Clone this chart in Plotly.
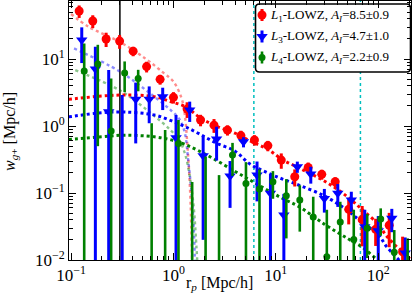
import plotly.graph_objects as go

# ---------------- data ----------------
rp = [0.120, 0.163, 0.220, 0.298, 0.404, 0.547, 0.741, 1.00, 1.36, 1.84, 2.49, 3.37,
      4.56, 6.18, 8.36, 11.3, 15.3, 20.7, 28.1, 38.0, 51.5, 69.7, 94.4, 128, 173]

w_L1 = [52, 37, 19.9, 18.5, 13.1, 7.7, 4.97, 2.68, 1.79, 1.23, 1.03, 0.87,
        0.72, 0.62, 0.51, 0.31, 0.175, 0.24, 0.19, 0.147, 0.057, 0.040, 0.0287, 0.033, 0.0133]
e_L1 = [11, 8, 4.8, 4.3, 2.1, 1.4, 0.83, 0.52, 0.47, 0.24, 0.24, 0.15,
        0.13, 0.11, 0.09, 0.08, 0.05, 0.045, 0.032, 0.025, 0.023, 0.024, 0.0125, 0.0175, 0.009]

w_L3 = [19.2, 7.1, 1.63, -0.8, 2.5, 2.5, 2.73, 0.67, 1.73, 0.36, 0.64, 0.18,
        0.58, 0.185, 0.099, 0.047, 0.247, 0.192, 0.083, 0.099, 0.0785, 0.0313, 0.0273, 0.042, 0.0127]
e_L3 = [10.5, 8.1, 5.2, 3.7, 1.95, 1.4, 1.0, 0.79, 0.58, 0.34, 0.335, 0.12,
        0.1, 0.11, 0.09, 0.05, 0.047, 0.054, 0.032, 0.037, 0.026, 0.025, 0.018, 0.016, 0.009]

w_L4 = [6.6, 8.4, 0.84, 6.2, 5.1, -0.5, -0.3, 0.55, -0.1, -0.2, -0.1, 0.37,
        0.139, 0.115, 0.147, 0.091, 0.0785, 0.044, 0.0112, 0.037, 0.0203, 0.0297, 0.041, 0.013, -0.005]
e_L4 = [10.5, 7.9, 4.3, 3.0, 1.8, 1.6, 1.17, 0.68, 0.246, 0.55, 0.285, 0.19,
        0.15, 0.11, 0.065, 0.07, 0.052, 0.044, 0.045, 0.037, 0.036, 0.019, 0.018, 0.015, 0.026]

# large-scale (thick dotted) model curves
rp_model = [0.095, 0.2, 0.33, 0.65, 0.95, 1.3, 1.8, 2.6, 4.0, 5.6, 8.3, 11.8, 17, 30, 50, 70, 100, 120, 150, 177, 215]
m_L1 = [2.5, 2.8, 2.9, 2.74, 2.3, 1.95, 1.35, 1.0, 0.78, 0.6, 0.45, 0.31, 0.235, 0.15, 0.088, 0.056, 0.034, 0.023, 0.016, 0.013, 0.0095]
m_L3 = [1.37, 1.58, 1.62, 1.46, 1.2, 0.98, 0.76, 0.56, 0.42, 0.27, 0.2, 0.16, 0.13, 0.09, 0.055, 0.036, 0.024, 0.016, 0.011, 0.0085, 0.006]
m_L4 = [0.63, 0.69, 0.73, 0.69, 0.62, 0.53, 0.42, 0.31, 0.21, 0.156, 0.11, 0.082, 0.062, 0.034, 0.021, 0.0155, 0.0098, 0.008, 0.006, 0.005, 0.004]

# small-scale (thin) model curves
rp_t1 = [0.1, 0.15, 0.3, 0.54, 0.8, 1.0, 1.2, 1.29, 1.36, 1.42, 1.47, 1.52]
t_L1 = [47, 30, 18, 10, 6.2, 4.6, 2.6, 1.5, 0.6, 0.22, 0.07, 0.01]
rp_t3 = [0.107, 0.3, 0.62, 0.95, 1.15, 1.29, 1.39, 1.5, 1.58, 1.62]
t_L3 = [14.4, 6.5, 2.9, 1.7, 1.25, 0.8, 0.32, 0.104, 0.03, 0.009]
rp_t4 = [0.11, 0.3, 0.62, 0.95, 1.15, 1.3, 1.45, 1.58, 1.68, 1.72]
t_L4 = [6.8, 3.4, 1.5, 0.85, 0.6, 0.38, 0.17, 0.06, 0.015, 0.008]

vline_black = 0.3
vlines_cyan = [6.1, 67]

labels = ["<i>L</i><sub>1</sub>-LOWZ, <i>A<sub>I</sub></i>=8.5\u00b10.9",
          "<i>L</i><sub>3</sub>-LOWZ, <i>A<sub>I</sub></i>=4.7\u00b11.0",
          "<i>L</i><sub>4</sub>-LOWZ, <i>A<sub>I</sub></i>=2.2\u00b10.9"]

xtick_vals = [0.1, 1, 10, 100]
xtick_text = ["10<sup>\u22121</sup>", "10<sup>0</sup>", "10<sup>1</sup>", "10<sup>2</sup>"]
ytick_vals = [0.01, 0.1, 1, 10]
ytick_text = ["10<sup>\u22122</sup>", "10<sup>\u22121</sup>", "10<sup>0</sup>", "10<sup>1</sup>"]

# ---------------- style ----------------
RED, BLUE, GREEN, CYAN = "#ff0000", "#0000ff", "#008000", "#00bfbf"
FONT = "Liberation Serif"
W, H = 415, 297
ML, MR, MT, MB = 69, 4, 1, 37
PW, PH = W - ML - MR, H - MT - MB
XR = [-1.02, 2.32]
YR = [-2.0, 1.866]

fig = go.Figure()

def bars(x, w, e, floor=1e-4):
    xs, ys = [], []
    for xi, wi, ei in zip(x, w, e):
        hi = wi + ei
        if hi <= 0:
            continue
        xs += [xi, xi, None]
        ys += [max(wi - ei, floor), hi, None]
    return xs, ys

# thin model curves
for xx, yy, c in [(rp_t1, t_L1, RED), (rp_t3, t_L3, BLUE), (rp_t4, t_L4, GREEN)]:
    fig.add_trace(go.Scatter(x=xx, y=yy, mode="lines", line=dict(color=c, width=2.4, dash="dot", shape="spline"),
                             opacity=0.45, showlegend=False, hoverinfo="skip"))

# thick dotted model curves
for yy, c in [(m_L1, RED), (m_L3, BLUE), (m_L4, GREEN)]:
    fig.add_trace(go.Scatter(x=rp_model, y=yy, mode="lines", line=dict(color=c, width=3, dash="dot", shape="spline"),
                             showlegend=False, hoverinfo="skip"))

series = [(w_L1, e_L1, RED, "circle", 9, 1.0, 3),
          (w_L3, e_L3, BLUE, "triangle-down", 10, 1.06, 3),
          (w_L4, e_L4, GREEN, "circle", 7, 1.12, 2.6)]
for w, e, c, sym, sz, off, lw in series:
    xo = [r * off for r in rp]
    bx, by = bars(xo, w, e)
    fig.add_trace(go.Scatter(x=bx, y=by, mode="lines", line=dict(color=c, width=lw),
                             showlegend=False, hoverinfo="skip", connectgaps=False))
    px = [xi for xi, wi in zip(xo, w) if wi > 0]
    py = [wi for wi in w if wi > 0]
    fig.add_trace(go.Scatter(x=px, y=py, mode="markers", marker=dict(color=c, symbol=sym, size=sz, line=dict(width=0)),
                             showlegend=False))

shapes = []
# vertical lines
shapes.append(dict(type="line", xref="x", yref="paper", x0=vline_black, x1=vline_black, y0=0, y1=1,
                   line=dict(color="black", width=1.5), layer="below"))
for v in vlines_cyan:
    shapes.append(dict(type="line", xref="x", yref="paper", x0=v, x1=v, y0=0, y1=1,
                       line=dict(color=CYAN, width=1.5, dash="dot"), layer="below"))

# legend box (rounded) in paper coords
bx0, bx1 = (255.5 - ML) / PW, (410.5 - ML) / PW
by1, by0 = 1 - (4 - MT) / PH, 1 - (72 - MT) / PH
rx, ry = 4 / PW, 4 / PH
path = (f"M {bx0+rx},{by1} L {bx1-rx},{by1} Q {bx1},{by1} {bx1},{by1-ry} "
        f"L {bx1},{by0+ry} Q {bx1},{by0} {bx1-rx},{by0} L {bx0+rx},{by0} "
        f"Q {bx0},{by0} {bx0},{by0+ry} L {bx0},{by1-ry} Q {bx0},{by1} {bx0+rx},{by1} Z")
shapes.append(dict(type="path", xref="paper", yref="paper", path=path,
                   line=dict(color="black", width=1.6), fillcolor="white", layer="below"))

# legend icons on overlay axes spanning the plot area (0..1)
ly = [1 - (15 - MT) / PH, 1 - (36.5 - MT) / PH, 1 - (57.5 - MT) / PH]
lx = (262 - ML) / PW
hl = 6 / PH
for yy, (w, e, c, sym, sz, off, lw) in zip(ly, series):
    fig.add_trace(go.Scatter(x=[lx, lx], y=[yy - hl, yy + hl], mode="lines", line=dict(color=c, width=lw),
                             xaxis="x2", yaxis="y2", showlegend=False, hoverinfo="skip"))
    fig.add_trace(go.Scatter(x=[lx], y=[yy], mode="markers", marker=dict(color=c, symbol=sym, size=sz),
                             xaxis="x2", yaxis="y2", showlegend=False, hoverinfo="skip"))

annotations = []
for yy, t in zip(ly, labels):
    annotations.append(dict(xref="paper", yref="paper", x=(268 - ML) / PW, y=yy, text=t, showarrow=False,
                            xanchor="left", yanchor="middle", font=dict(family=FONT, size=13, color="black")))

annotations.append(dict(xref="paper", yref="paper", x=(219 - ML) / PW, y=1 - (283 - MT) / PH,
                        text="r<sub><i>p</i></sub> [Mpc/h]", showarrow=False, xanchor="center", yanchor="middle",
                        font=dict(family=FONT, size=16, color="black")))
annotations.append(dict(xref="paper", yref="paper", x=(10 - ML) / PW, y=1 - (132 - MT) / PH,
                        text="<i>w</i><sub><i>g</i>+</sub> [Mpc/h]", showarrow=False, textangle=-90,
                        xanchor="center", yanchor="middle", font=dict(family=FONT, size=16, color="black")))

minor_x = [m * 10 ** d for d in range(-2, 3) for m in range(2, 10)]
minor_y = [m * 10 ** d for d in range(-3, 2) for m in range(2, 10)]

axis_common = dict(type="log", showline=True, linecolor="black", linewidth=1, mirror="allticks",
                   ticks="inside", ticklen=7, tickwidth=1, tickcolor="black", showgrid=False, zeroline=False,
                   tickfont=dict(family=FONT, size=17, color="black"), tickmode="array")

fig.update_layout(
    width=W, height=H, margin=dict(l=ML, r=MR, t=MT, b=MB),
    paper_bgcolor="white", plot_bgcolor="white", showlegend=False,
    xaxis=dict(range=XR, tickvals=xtick_vals, ticktext=xtick_text,
               minor=dict(tickmode="array", tickvals=minor_x, ticks="inside", ticklen=4, tickcolor="black", showgrid=False),
               **axis_common),
    yaxis=dict(range=YR, tickvals=ytick_vals, ticktext=ytick_text,
               minor=dict(tickmode="array", tickvals=minor_y, ticks="inside", ticklen=4, tickcolor="black", showgrid=False),
               **axis_common),
    xaxis2=dict(overlaying="x", range=[0, 1], visible=False, fixedrange=True),
    yaxis2=dict(overlaying="y", range=[0, 1], visible=False, fixedrange=True),
    shapes=shapes, annotations=annotations,
    font=dict(family=FONT, color="black"),
)

fig.write_html("out.html", config={"displayModeBar": False},
               post_script="document.body.style.margin='0px';document.body.style.padding='0px';")
